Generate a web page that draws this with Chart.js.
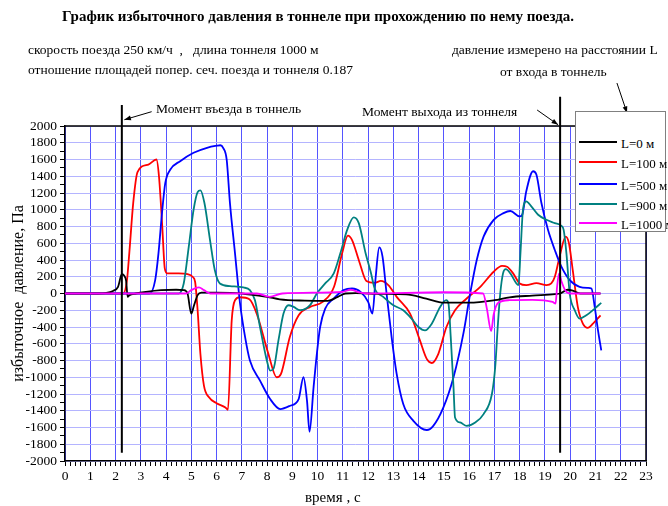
<!DOCTYPE html>
<html>
<head>
<meta charset="utf-8">
<script src="https://cdn.jsdelivr.net/npm/chart.js@4"></script>
<style>
  html, body { margin: 0; padding: 0; background: #fff; }
  #wrap { position: relative; width: 668px; height: 506px; overflow: hidden; font-family: "Liberation Serif", "Times New Roman", serif; color: #000; }
  #chart { position: absolute; left: 0; top: 0; }
  .txt { position: absolute; white-space: pre; line-height: 1; }
  #legend { position: absolute; left: 575px; top: 111px; width: 89px; height: 119px; border: 1px solid #808080; background: #fff; }
  .item { position: absolute; left: 3px; height: 20px; width: 90px; }
  .item span.ln { position: absolute; left: 0; top: 9px; width: 38px; height: 2px; }
  .item span.lb { position: absolute; left: 42px; top: 4px; font-size: 13px; white-space: pre; }
</style>
</head>
<body>
<div id="wrap">
  <canvas id="chart" width="668" height="506"></canvas>
  <div class="txt" style="left:62px;top:9px;font-size:15px;font-weight:bold;">График избыточного давления в тоннеле при прохождению по нему поезда.</div>
  <div class="txt" style="left:28px;top:43px;font-size:13.5px;">скорость поезда 250 км/ч  ,   длина тоннеля 1000 м</div>
  <div class="txt" style="left:28px;top:63px;font-size:13.5px;">отношение площадей попер. сеч. поезда и тоннеля 0.187</div>
  <div class="txt" style="left:452px;top:43px;font-size:13.5px;">давление измерено на расстоянии L</div>
  <div class="txt" style="left:500px;top:65px;font-size:13.5px;">от входа в тоннель</div>
  <div class="txt" style="left:156px;top:102px;font-size:13.5px;">Момент въезда в тоннель</div>
  <div class="txt" style="left:362px;top:105px;font-size:13.5px;">Момент выхода из тоннеля</div>
  <div class="txt" style="left:305px;top:490px;font-size:15px;">время , с</div>
  <div id="legend"></div>
</div>
<script>
  // время, с / давление, Па
  const t0 = [0, 1.3, 1.6, 1.9, 2.1, 2.25, 2.35, 2.42, 2.48, 2.55, 2.8, 3.2, 3.8, 4.4, 4.7, 4.85, 5.0, 5.1, 5.25, 5.4, 6.0, 7.0, 7.5, 8.0, 8.5, 9.5, 10.4, 10.8, 11.1, 11.5, 12.5, 13.5, 14.3, 15.0, 16.0, 17.0, 17.6, 18.5, 19.4, 19.6, 19.9, 20.1, 20.4, 21.2];
  const p0 = [0, 0, 5, 30, 80, 230, 210, 150, -40, -20, 0, 20, 40, 45, 40, 0, -240, -150, -20, 10, 10, 0, -20, -40, -70, -85, -88, -40, 0, 5, -5, -10, -60, -110, -110, -80, -45, -25, -8, 0, 45, 35, 0, 0];

  const t100 = [0, 2.3, 2.45, 2.55, 2.7, 2.87, 3.3, 3.62, 3.72, 3.85, 3.95, 4.05, 4.5, 4.85, 5.05, 5.15, 5.25, 5.36, 5.5, 5.7, 6.0, 6.35, 6.45, 6.6, 6.73, 6.93, 7.3, 7.6, 8.05, 8.38, 8.55, 8.9, 9.25, 9.7, 10.2, 10.65, 10.97, 11.2, 11.36, 11.65, 11.93, 12.26, 12.5, 12.8, 13.13, 13.66, 14.05, 14.32, 14.52, 14.78, 15.1, 15.44, 15.9, 16.44, 16.97, 17.3, 17.5, 17.74, 18.0, 18.26, 18.66, 19.06, 19.25, 19.39, 19.58, 19.82, 19.95, 20.1, 20.3, 20.5, 20.7, 20.9, 21.2];
  const p100 = [0, 0, 150, 500, 1080, 1450, 1540, 1600, 1400, 800, 300, 240, 240, 230, 200, 140, -200, -720, -1100, -1240, -1310, -1360, -1390, -320, -80, -45, -70, -250, -720, -1000, -960, -520, -260, -160, -100, 80, 480, 690, 640, 380, 150, 128, 150, 100, -40, -240, -560, -780, -830, -720, -400, -200, -60, 80, 260, 330, 320, 240, 120, 100, 125, 100, 120, 200, 440, 680, 600, 280, -160, -360, -410, -360, -260];

  const t500 = [0, 3.35, 3.57, 3.7, 3.84, 3.97, 4.17, 4.56, 5.09, 5.62, 6.02, 6.15, 6.26, 6.4, 6.53, 6.73, 6.93, 7.13, 7.32, 7.72, 8.12, 8.52, 8.91, 9.25, 9.44, 9.58, 9.68, 9.84, 9.97, 10.1, 10.3, 10.64, 11.03, 11.36, 11.7, 12.0, 12.17, 12.3, 12.44, 12.57, 12.73, 12.93, 13.13, 13.39, 13.79, 14.32, 14.58, 14.98, 15.38, 15.77, 16.04, 16.3, 16.57, 16.97, 17.36, 17.63, 18.0, 18.1, 18.26, 18.53, 18.66, 18.86, 19.12, 19.39, 19.65, 19.98, 20.37, 20.7, 20.84, 20.97, 21.1, 21.23];
  const p500 = [0, 0, 160, 480, 960, 1320, 1480, 1580, 1680, 1740, 1765, 1770, 1740, 1600, 1080, 480, -120, -520, -800, -1040, -1260, -1380, -1340, -1260, -1000, -1280, -1650, -1120, -720, -400, -180, -60, 40, 60, 20, -100, -240, 200, 550, 440, 0, -520, -960, -1320, -1520, -1630, -1580, -1360, -1000, -480, 0, 400, 680, 880, 960, 985, 920, 940, 1220, 1460, 1420, 1080, 760, 520, 320, 160, 80, 68, 60, -160, -440, -680];

  const t900 = [0, 4.5, 4.7, 4.9, 5.09, 5.25, 5.36, 5.52, 5.75, 5.93, 6.13, 6.53, 7.06, 7.32, 7.52, 7.72, 7.99, 8.12, 8.25, 8.45, 8.65, 8.85, 9.05, 9.31, 9.7, 9.97, 10.3, 10.64, 10.9, 11.17, 11.43, 11.63, 11.9, 12.1, 12.26, 12.6, 13.0, 13.39, 13.72, 13.99, 14.25, 14.52, 14.85, 15.09, 15.18, 15.27, 15.38, 15.44, 15.64, 15.9, 16.24, 16.57, 16.9, 17.03, 17.13, 17.23, 17.34, 17.45, 17.63, 17.87, 17.95, 18.03, 18.13, 18.26, 18.46, 18.73, 19.06, 19.39, 19.65, 19.74, 19.85, 19.98, 20.18, 20.37, 20.64, 20.97, 21.23];
  const p900 = [0, 0, 120, 560, 1000, 1210, 1232, 1080, 620, 280, 120, 88, 72, 40, -80, -400, -800, -920, -900, -560, -240, -140, -160, -200, -140, 0, 120, 240, 480, 760, 910, 840, 480, 260, 60, -40, -140, -200, -300, -400, -440, -360, -160, -80, -120, -520, -1120, -1480, -1540, -1580, -1540, -1440, -1200, -880, -400, 0, 240, 290, 240, 120, 100, 480, 1000, 1100, 1040, 940, 880, 840, 808, 760, 480, 0, -200, -300, -260, -180, -112];

  const t1000 = [0, 4.8, 5.0, 5.3, 5.5, 5.75, 7.6, 8.1, 8.6, 11.0, 11.3, 11.7, 12.0, 15.0, 16.55, 16.7, 16.87, 16.97, 17.15, 17.6, 18.5, 19.3, 19.42, 19.48, 19.56, 19.65, 19.8, 20.0, 21.2];
  const p1000 = [0, 0, 40, 72, 40, 0, 0, -40, 0, 20, 45, 10, 0, 15, 0, -180, -450, -250, -110, -80, -75, -100, -120, 80, 240, 150, 40, 0, 0];

  const seriesLabels = ["L=0 м", "L=100 м", "L=500 м", "L=900 м", "L=1000 м"];
  const seriesColors = ["#000000", "#ff0000", "#0000ff", "#008080", "#ff00ff"];
  const seriesT = [t0, t100, t500, t900, t1000];
  const seriesP = [p0, p100, p500, p900, p1000];

  // моменты въезда и выхода поезда
  const entryTime = 2.25, exitTime = 19.6;
  const entryLine = [-1900, 2250];
  const exitLine = [-1900, 2350];

  // стрелки подписей: [x0, y0, x1, y1] в единицах осей
  const arrows = [
    [3.43, 2171, 2.35, 2075],
    [18.69, 2191, 19.52, 2015],
    [21.85, 2513, 22.25, 2155],
  ];

  const xMax = 23, yMin = -2000, yMax = 2000;

  function isMult(v, step) {
    return Math.abs(v / step - Math.round(v / step)) < 1e-6;
  }

  // легенда
  const legendEl = document.getElementById("legend");
  const rowTop = [20, 40, 62, 82, 101];
  seriesLabels.forEach(function (lab, i) {
    const row = document.createElement("div");
    row.className = "item";
    row.style.top = rowTop[i] + "px";
    row.innerHTML = '<span class="ln" style="background:' + seriesColors[i] + '"></span><span class="lb">' + lab + "</span>";
    legendEl.appendChild(row);
  });

  const datasets = [];
  datasets.push({
    data: [{ x: entryTime, y: entryLine[0] }, { x: entryTime, y: entryLine[1] }],
    borderColor: "#000", borderWidth: 2, pointRadius: 0, clip: false, order: 0,
  });
  datasets.push({
    data: [{ x: exitTime, y: exitLine[0] }, { x: exitTime, y: exitLine[1] }],
    borderColor: "#000", borderWidth: 2, pointRadius: 0, clip: false, order: 0,
  });
  const drawOrder = [2, 5, 4, 3, 1];
  seriesLabels.forEach(function (lab, i) {
    datasets.push({
      label: lab,
      data: seriesT[i].map(function (t, j) { return { x: t, y: seriesP[i][j] }; }),
      borderColor: seriesColors[i],
      borderWidth: 1.8,
      pointRadius: 0,
      cubicInterpolationMode: "monotone",
      order: drawOrder[i],
    });
  });

  const frame = {
    id: "frame",
    afterDatasetsDraw(chart) {
      const a = chart.chartArea, ctx = chart.ctx;
      ctx.save();
      ctx.strokeStyle = "#000";
      ctx.lineWidth = 1.5;
      ctx.beginPath();
      ctx.moveTo(a.left, a.top);
      ctx.lineTo(a.right, a.top);
      ctx.lineTo(a.right, a.bottom);
      ctx.stroke();
      ctx.lineWidth = 1;
      const xs = chart.scales.x, ys = chart.scales.y;
      arrows.forEach(function (ar) {
        const x0 = xs.getPixelForValue(ar[0]), y0 = ys.getPixelForValue(ar[1]);
        const x1 = xs.getPixelForValue(ar[2]), y1 = ys.getPixelForValue(ar[3]);
        ctx.beginPath();
        ctx.moveTo(x0, y0);
        ctx.lineTo(x1, y1);
        ctx.stroke();
        const ang = Math.atan2(y1 - y0, x1 - x0), L = 7, w = 0.35;
        ctx.beginPath();
        ctx.moveTo(x1, y1);
        ctx.lineTo(x1 - L * Math.cos(ang - w), y1 - L * Math.sin(ang - w));
        ctx.lineTo(x1 - L * Math.cos(ang + w), y1 - L * Math.sin(ang + w));
        ctx.closePath();
        ctx.fillStyle = "#000";
        ctx.fill();
      });
      ctx.restore();
    },
  };

  Chart.defaults.font.family = "'Liberation Serif', 'Times New Roman', serif";
  Chart.defaults.color = "#000";

  new Chart(document.getElementById("chart").getContext("2d"), {
    type: "line",
    data: { datasets: datasets },
    options: {
      responsive: false,
      animation: false,
      layout: { padding: { left: 0, top: 126, right: 22, bottom: 0 } },
      plugins: { legend: { display: false }, tooltip: { enabled: false } },
      scales: {
        x: {
          type: "linear",
          min: 0,
          max: xMax,
          afterFit(scale) { scale.height = 45; },
          ticks: {
            stepSize: 0.2,
            autoSkip: false,
            maxRotation: 0,
            minRotation: 0,
            padding: 2,
            font: { size: 13.5 },
            callback: function (v) { return isMult(v, 1) ? String(Math.round(v)) : ""; },
          },
          grid: {
            color: function (c) { return isMult(c.tick.value, 1) ? "#5555ff" : "rgba(0,0,0,0)"; },
            lineWidth: 1,
            tickColor: "#000",
            tickLength: 5,
          },
          border: { color: "#000", width: 1.5 },
        },
        y: {
          min: yMin,
          max: yMax,
          afterFit(scale) { scale.width = 65; },
          ticks: {
            stepSize: 100,
            autoSkip: false,
            padding: 3,
            font: { size: 13.5 },
            callback: function (v) { return isMult(v, 200) ? String(Math.round(v)) : ""; },
          },
          grid: {
            color: function (c) { return isMult(c.tick.value, 200) ? "#b4b4ff" : "rgba(0,0,0,0)"; },
            lineWidth: 1,
            tickColor: "#000",
            tickLength: 5,
          },
          border: { color: "#000", width: 1.5 },
          title: {
            display: true,
            text: "избыточное  давление, Па",
            font: { size: 16 },
            padding: { top: 9, bottom: 0 },
          },
        },
      },
    },
    plugins: [frame],
  });
</script>
</body>
</html>
